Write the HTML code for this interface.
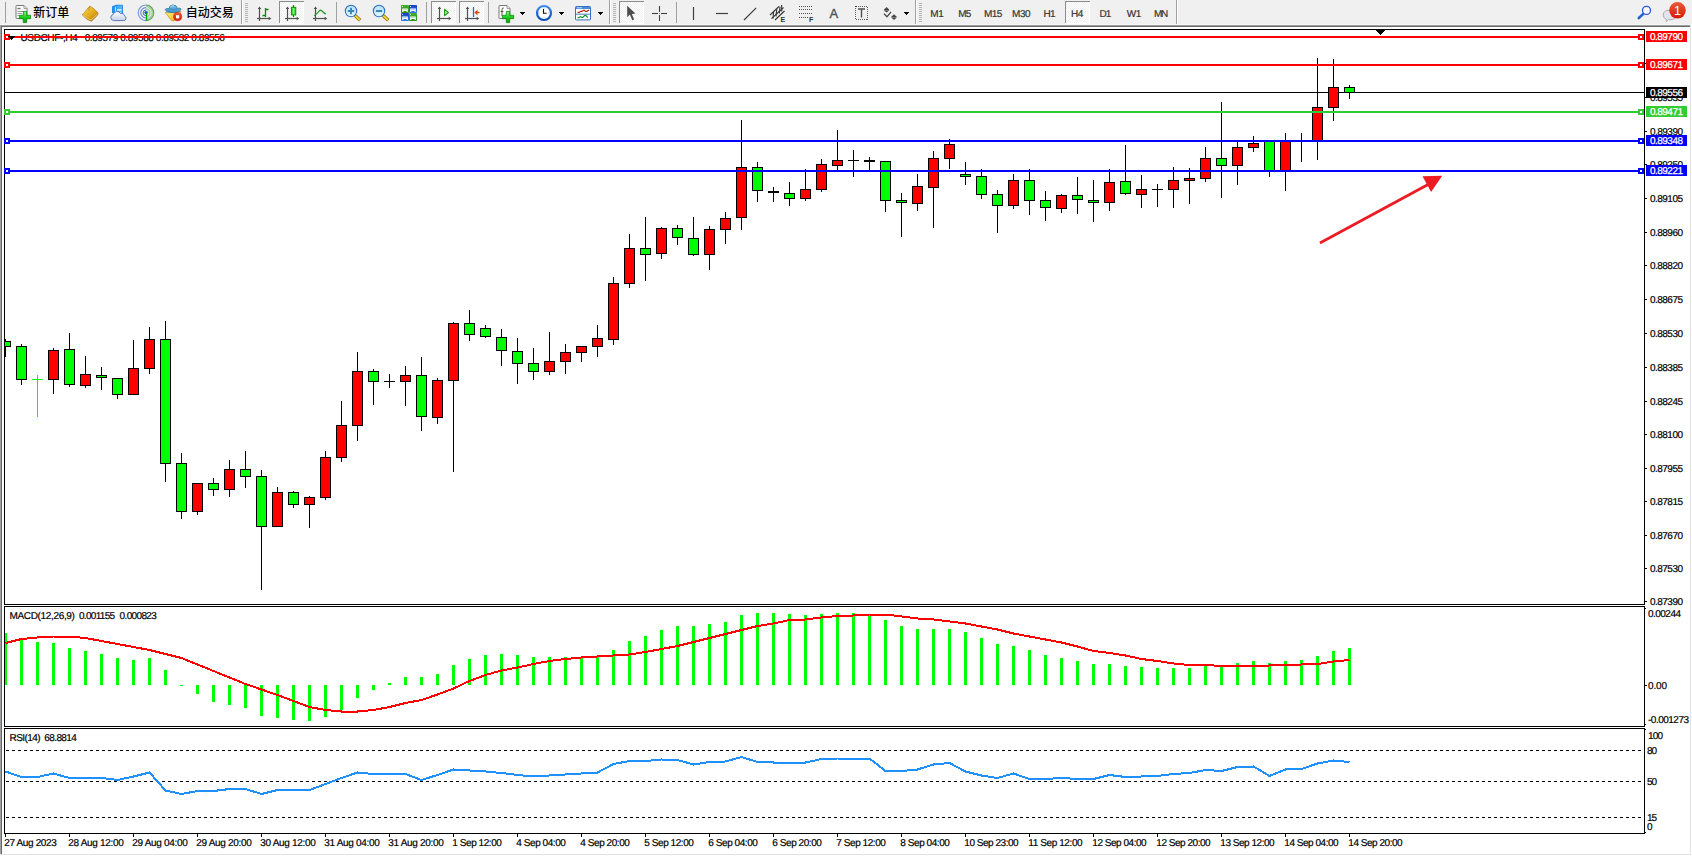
<!DOCTYPE html>
<html lang="zh"><head><meta charset="utf-8"><title>USDCHF-,H4</title>
<style>
html,body{margin:0;padding:0;background:#fff;}
body{width:1692px;height:856px;overflow:hidden;position:relative;font-family:"Liberation Sans", "Noto Sans CJK SC", sans-serif;}
svg{position:absolute;left:0;top:0;display:block}
text{font-family:"Liberation Sans", "Noto Sans CJK SC", sans-serif;}
.t,.w,.tb{text-rendering:geometricPrecision}
.t{font-size:10px;fill:#000;stroke:#000;stroke-width:0.2px}
.w{font-size:10px;fill:#fff;stroke:#fff;stroke-width:0.25px}
.tb{font-size:10px;fill:#333;stroke:#333;stroke-width:0.2px}
.cj{font-size:12px;fill:#000;font-weight:500}
</style></head><body>
<svg width="1692" height="856" viewBox="0 0 1692 856">

<g shape-rendering="crispEdges">
<rect x="0" y="0" width="1692" height="856" fill="#fff"/>
<rect x="0" y="0" width="1692" height="25" fill="#f0f0f0"/>
<rect x="0" y="24" width="1692" height="1" fill="#f6f6f6"/>
<rect x="0" y="25" width="1690" height="1" fill="#a0a0a0"/>
<rect x="0" y="26" width="1690" height="1" fill="#696969"/>
<rect x="0" y="25" width="1" height="829" fill="#a0a0a0"/>
<rect x="1" y="26" width="1" height="828" fill="#696969"/>
<rect x="1690" y="25" width="1" height="830" fill="#e3e3e3"/>
<rect x="1691" y="25" width="1" height="831" fill="#fff"/>
<rect x="0" y="854" width="1691" height="1" fill="#e3e3e3"/>
<rect x="0" y="855" width="1692" height="1" fill="#fff"/>
</g>
<g shape-rendering="crispEdges">
<rect x="4" y="29" width="1641" height="1" fill="#000"/>
<rect x="4" y="604" width="1641" height="1" fill="#000"/>
<rect x="4" y="29" width="1" height="576" fill="#000"/>
<rect x="1644" y="29" width="1" height="576" fill="#000"/>
<rect x="4" y="606" width="1641" height="1" fill="#000"/>
<rect x="4" y="726" width="1641" height="1" fill="#000"/>
<rect x="4" y="606" width="1" height="121" fill="#000"/>
<rect x="1644" y="606" width="1" height="121" fill="#000"/>
<rect x="4" y="728" width="1641" height="1" fill="#000"/>
<rect x="4" y="833" width="1641" height="1" fill="#000"/>
<rect x="4" y="728" width="1" height="106" fill="#000"/>
<rect x="1644" y="728" width="1" height="106" fill="#000"/>
<rect x="5" y="92" width="1640" height="1" fill="#000"/>
</g>
<text class="t" y="41"><tspan x="20.5" textLength="57.2" lengthAdjust="spacing">USDCHF-,H4</tspan><tspan x="84.7" textLength="140.2" lengthAdjust="spacing">0.89579 0.89588 0.89532 0.89556</tspan></text>
<clipPath id="cm"><rect x="5" y="30" width="1639" height="574"/></clipPath>
<g shape-rendering="crispEdges" clip-path="url(#cm)">
<rect x="5" y="339" width="1" height="18" fill="#000"/>
<rect x="0" y="341" width="11" height="6" fill="#000"/>
<rect x="1" y="342" width="9" height="4" fill="#00ff00"/>
<rect x="21" y="344" width="1" height="41" fill="#000"/>
<rect x="16" y="346" width="11" height="34" fill="#000"/>
<rect x="17" y="347" width="9" height="32" fill="#00ff00"/>
<rect x="53" y="348" width="1" height="46" fill="#000"/>
<rect x="48" y="350" width="11" height="30" fill="#000"/>
<rect x="49" y="351" width="9" height="28" fill="#ff0000"/>
<rect x="69" y="333" width="1" height="54" fill="#000"/>
<rect x="64" y="349" width="11" height="36" fill="#000"/>
<rect x="65" y="350" width="9" height="34" fill="#00ff00"/>
<rect x="85" y="356" width="1" height="32" fill="#000"/>
<rect x="80" y="374" width="11" height="12" fill="#000"/>
<rect x="81" y="375" width="9" height="10" fill="#ff0000"/>
<rect x="101" y="367" width="1" height="23" fill="#000"/>
<rect x="96" y="375" width="11" height="3" fill="#000"/>
<rect x="97" y="376" width="9" height="1" fill="#00ff00"/>
<rect x="117" y="378" width="1" height="21" fill="#000"/>
<rect x="112" y="378" width="11" height="17" fill="#000"/>
<rect x="113" y="379" width="9" height="15" fill="#00ff00"/>
<rect x="133" y="340" width="1" height="55" fill="#000"/>
<rect x="128" y="368" width="11" height="27" fill="#000"/>
<rect x="129" y="369" width="9" height="25" fill="#ff0000"/>
<rect x="149" y="327" width="1" height="47" fill="#000"/>
<rect x="144" y="339" width="11" height="30" fill="#000"/>
<rect x="145" y="340" width="9" height="28" fill="#ff0000"/>
<rect x="165" y="321" width="1" height="161" fill="#000"/>
<rect x="160" y="339" width="11" height="125" fill="#000"/>
<rect x="161" y="340" width="9" height="123" fill="#00ff00"/>
<rect x="181" y="453" width="1" height="66" fill="#000"/>
<rect x="176" y="463" width="11" height="49" fill="#000"/>
<rect x="177" y="464" width="9" height="47" fill="#00ff00"/>
<rect x="197" y="483" width="1" height="32" fill="#000"/>
<rect x="192" y="483" width="11" height="29" fill="#000"/>
<rect x="193" y="484" width="9" height="27" fill="#ff0000"/>
<rect x="213" y="478" width="1" height="18" fill="#000"/>
<rect x="208" y="483" width="11" height="7" fill="#000"/>
<rect x="209" y="484" width="9" height="5" fill="#00ff00"/>
<rect x="229" y="460" width="1" height="37" fill="#000"/>
<rect x="224" y="469" width="11" height="21" fill="#000"/>
<rect x="225" y="470" width="9" height="19" fill="#ff0000"/>
<rect x="245" y="451" width="1" height="37" fill="#000"/>
<rect x="240" y="469" width="11" height="8" fill="#000"/>
<rect x="241" y="470" width="9" height="6" fill="#00ff00"/>
<rect x="261" y="470" width="1" height="120" fill="#000"/>
<rect x="256" y="476" width="11" height="51" fill="#000"/>
<rect x="257" y="477" width="9" height="49" fill="#00ff00"/>
<rect x="277" y="487" width="1" height="40" fill="#000"/>
<rect x="272" y="492" width="11" height="35" fill="#000"/>
<rect x="273" y="493" width="9" height="33" fill="#ff0000"/>
<rect x="293" y="491" width="1" height="17" fill="#000"/>
<rect x="288" y="492" width="11" height="13" fill="#000"/>
<rect x="289" y="493" width="9" height="11" fill="#00ff00"/>
<rect x="309" y="496" width="1" height="32" fill="#000"/>
<rect x="304" y="497" width="11" height="8" fill="#000"/>
<rect x="305" y="498" width="9" height="6" fill="#ff0000"/>
<rect x="325" y="451" width="1" height="49" fill="#000"/>
<rect x="320" y="457" width="11" height="41" fill="#000"/>
<rect x="321" y="458" width="9" height="39" fill="#ff0000"/>
<rect x="341" y="401" width="1" height="61" fill="#000"/>
<rect x="336" y="425" width="11" height="33" fill="#000"/>
<rect x="337" y="426" width="9" height="31" fill="#ff0000"/>
<rect x="357" y="352" width="1" height="89" fill="#000"/>
<rect x="352" y="371" width="11" height="55" fill="#000"/>
<rect x="353" y="372" width="9" height="53" fill="#ff0000"/>
<rect x="373" y="369" width="1" height="36" fill="#000"/>
<rect x="368" y="371" width="11" height="11" fill="#000"/>
<rect x="369" y="372" width="9" height="9" fill="#00ff00"/>
<rect x="405" y="366" width="1" height="40" fill="#000"/>
<rect x="400" y="375" width="11" height="7" fill="#000"/>
<rect x="401" y="376" width="9" height="5" fill="#ff0000"/>
<rect x="421" y="357" width="1" height="74" fill="#000"/>
<rect x="416" y="375" width="11" height="42" fill="#000"/>
<rect x="417" y="376" width="9" height="40" fill="#00ff00"/>
<rect x="437" y="378" width="1" height="46" fill="#000"/>
<rect x="432" y="380" width="11" height="38" fill="#000"/>
<rect x="433" y="381" width="9" height="36" fill="#ff0000"/>
<rect x="453" y="322" width="1" height="150" fill="#000"/>
<rect x="448" y="323" width="11" height="58" fill="#000"/>
<rect x="449" y="324" width="9" height="56" fill="#ff0000"/>
<rect x="469" y="310" width="1" height="31" fill="#000"/>
<rect x="464" y="323" width="11" height="12" fill="#000"/>
<rect x="465" y="324" width="9" height="10" fill="#00ff00"/>
<rect x="485" y="325" width="1" height="13" fill="#000"/>
<rect x="480" y="328" width="11" height="9" fill="#000"/>
<rect x="481" y="329" width="9" height="7" fill="#00ff00"/>
<rect x="501" y="329" width="1" height="37" fill="#000"/>
<rect x="496" y="337" width="11" height="14" fill="#000"/>
<rect x="497" y="338" width="9" height="12" fill="#00ff00"/>
<rect x="517" y="338" width="1" height="46" fill="#000"/>
<rect x="512" y="351" width="11" height="13" fill="#000"/>
<rect x="513" y="352" width="9" height="11" fill="#00ff00"/>
<rect x="533" y="348" width="1" height="32" fill="#000"/>
<rect x="528" y="363" width="11" height="9" fill="#000"/>
<rect x="529" y="364" width="9" height="7" fill="#00ff00"/>
<rect x="549" y="332" width="1" height="43" fill="#000"/>
<rect x="544" y="361" width="11" height="11" fill="#000"/>
<rect x="545" y="362" width="9" height="9" fill="#ff0000"/>
<rect x="565" y="344" width="1" height="30" fill="#000"/>
<rect x="560" y="352" width="11" height="10" fill="#000"/>
<rect x="561" y="353" width="9" height="8" fill="#ff0000"/>
<rect x="581" y="346" width="1" height="16" fill="#000"/>
<rect x="576" y="346" width="11" height="7" fill="#000"/>
<rect x="577" y="347" width="9" height="5" fill="#ff0000"/>
<rect x="597" y="325" width="1" height="32" fill="#000"/>
<rect x="592" y="338" width="11" height="9" fill="#000"/>
<rect x="593" y="339" width="9" height="7" fill="#ff0000"/>
<rect x="613" y="277" width="1" height="68" fill="#000"/>
<rect x="608" y="283" width="11" height="57" fill="#000"/>
<rect x="609" y="284" width="9" height="55" fill="#ff0000"/>
<rect x="629" y="234" width="1" height="54" fill="#000"/>
<rect x="624" y="248" width="11" height="36" fill="#000"/>
<rect x="625" y="249" width="9" height="34" fill="#ff0000"/>
<rect x="645" y="217" width="1" height="64" fill="#000"/>
<rect x="640" y="248" width="11" height="7" fill="#000"/>
<rect x="641" y="249" width="9" height="5" fill="#00ff00"/>
<rect x="661" y="227" width="1" height="32" fill="#000"/>
<rect x="656" y="228" width="11" height="26" fill="#000"/>
<rect x="657" y="229" width="9" height="24" fill="#ff0000"/>
<rect x="677" y="225" width="1" height="20" fill="#000"/>
<rect x="672" y="228" width="11" height="10" fill="#000"/>
<rect x="673" y="229" width="9" height="8" fill="#00ff00"/>
<rect x="693" y="217" width="1" height="39" fill="#000"/>
<rect x="688" y="238" width="11" height="17" fill="#000"/>
<rect x="689" y="239" width="9" height="15" fill="#00ff00"/>
<rect x="709" y="226" width="1" height="44" fill="#000"/>
<rect x="704" y="229" width="11" height="26" fill="#000"/>
<rect x="705" y="230" width="9" height="24" fill="#ff0000"/>
<rect x="725" y="212" width="1" height="32" fill="#000"/>
<rect x="720" y="218" width="11" height="12" fill="#000"/>
<rect x="721" y="219" width="9" height="10" fill="#ff0000"/>
<rect x="741" y="120" width="1" height="110" fill="#000"/>
<rect x="736" y="167" width="11" height="51" fill="#000"/>
<rect x="737" y="168" width="9" height="49" fill="#ff0000"/>
<rect x="757" y="162" width="1" height="40" fill="#000"/>
<rect x="752" y="167" width="11" height="24" fill="#000"/>
<rect x="753" y="168" width="9" height="22" fill="#00ff00"/>
<rect x="789" y="182" width="1" height="24" fill="#000"/>
<rect x="784" y="193" width="11" height="6" fill="#000"/>
<rect x="785" y="194" width="9" height="4" fill="#00ff00"/>
<rect x="805" y="169" width="1" height="32" fill="#000"/>
<rect x="800" y="189" width="11" height="10" fill="#000"/>
<rect x="801" y="190" width="9" height="8" fill="#ff0000"/>
<rect x="821" y="159" width="1" height="33" fill="#000"/>
<rect x="816" y="164" width="11" height="26" fill="#000"/>
<rect x="817" y="165" width="9" height="24" fill="#ff0000"/>
<rect x="837" y="130" width="1" height="40" fill="#000"/>
<rect x="832" y="160" width="11" height="6" fill="#000"/>
<rect x="833" y="161" width="9" height="4" fill="#ff0000"/>
<rect x="885" y="161" width="1" height="51" fill="#000"/>
<rect x="880" y="161" width="11" height="40" fill="#000"/>
<rect x="881" y="162" width="9" height="38" fill="#00ff00"/>
<rect x="901" y="193" width="1" height="44" fill="#000"/>
<rect x="896" y="200" width="11" height="3" fill="#000"/>
<rect x="897" y="201" width="9" height="1" fill="#00ff00"/>
<rect x="917" y="174" width="1" height="37" fill="#000"/>
<rect x="912" y="186" width="11" height="18" fill="#000"/>
<rect x="913" y="187" width="9" height="16" fill="#ff0000"/>
<rect x="933" y="151" width="1" height="77" fill="#000"/>
<rect x="928" y="158" width="11" height="30" fill="#000"/>
<rect x="929" y="159" width="9" height="28" fill="#ff0000"/>
<rect x="949" y="139" width="1" height="30" fill="#000"/>
<rect x="944" y="144" width="11" height="15" fill="#000"/>
<rect x="945" y="145" width="9" height="13" fill="#ff0000"/>
<rect x="965" y="162" width="1" height="23" fill="#000"/>
<rect x="960" y="174" width="11" height="3" fill="#000"/>
<rect x="961" y="175" width="9" height="1" fill="#00ff00"/>
<rect x="981" y="169" width="1" height="30" fill="#000"/>
<rect x="976" y="176" width="11" height="19" fill="#000"/>
<rect x="977" y="177" width="9" height="17" fill="#00ff00"/>
<rect x="997" y="190" width="1" height="43" fill="#000"/>
<rect x="992" y="194" width="11" height="12" fill="#000"/>
<rect x="993" y="195" width="9" height="10" fill="#00ff00"/>
<rect x="1013" y="174" width="1" height="35" fill="#000"/>
<rect x="1008" y="180" width="11" height="26" fill="#000"/>
<rect x="1009" y="181" width="9" height="24" fill="#ff0000"/>
<rect x="1029" y="169" width="1" height="46" fill="#000"/>
<rect x="1024" y="180" width="11" height="21" fill="#000"/>
<rect x="1025" y="181" width="9" height="19" fill="#00ff00"/>
<rect x="1045" y="191" width="1" height="30" fill="#000"/>
<rect x="1040" y="200" width="11" height="8" fill="#000"/>
<rect x="1041" y="201" width="9" height="6" fill="#00ff00"/>
<rect x="1061" y="194" width="1" height="19" fill="#000"/>
<rect x="1056" y="195" width="11" height="14" fill="#000"/>
<rect x="1057" y="196" width="9" height="12" fill="#ff0000"/>
<rect x="1077" y="177" width="1" height="37" fill="#000"/>
<rect x="1072" y="195" width="11" height="5" fill="#000"/>
<rect x="1073" y="196" width="9" height="3" fill="#00ff00"/>
<rect x="1093" y="180" width="1" height="42" fill="#000"/>
<rect x="1088" y="200" width="11" height="3" fill="#000"/>
<rect x="1089" y="201" width="9" height="1" fill="#00ff00"/>
<rect x="1109" y="169" width="1" height="42" fill="#000"/>
<rect x="1104" y="182" width="11" height="21" fill="#000"/>
<rect x="1105" y="183" width="9" height="19" fill="#ff0000"/>
<rect x="1125" y="145" width="1" height="50" fill="#000"/>
<rect x="1120" y="181" width="11" height="13" fill="#000"/>
<rect x="1121" y="182" width="9" height="11" fill="#00ff00"/>
<rect x="1141" y="175" width="1" height="33" fill="#000"/>
<rect x="1136" y="189" width="11" height="6" fill="#000"/>
<rect x="1137" y="190" width="9" height="4" fill="#ff0000"/>
<rect x="1173" y="167" width="1" height="41" fill="#000"/>
<rect x="1168" y="180" width="11" height="10" fill="#000"/>
<rect x="1169" y="181" width="9" height="8" fill="#ff0000"/>
<rect x="1189" y="168" width="1" height="36" fill="#000"/>
<rect x="1184" y="178" width="11" height="3" fill="#000"/>
<rect x="1185" y="179" width="9" height="1" fill="#ff0000"/>
<rect x="1205" y="147" width="1" height="35" fill="#000"/>
<rect x="1200" y="158" width="11" height="21" fill="#000"/>
<rect x="1201" y="159" width="9" height="19" fill="#ff0000"/>
<rect x="1221" y="102" width="1" height="96" fill="#000"/>
<rect x="1216" y="158" width="11" height="8" fill="#000"/>
<rect x="1217" y="159" width="9" height="6" fill="#00ff00"/>
<rect x="1237" y="141" width="1" height="44" fill="#000"/>
<rect x="1232" y="147" width="11" height="19" fill="#000"/>
<rect x="1233" y="148" width="9" height="17" fill="#ff0000"/>
<rect x="1253" y="136" width="1" height="16" fill="#000"/>
<rect x="1248" y="143" width="11" height="5" fill="#000"/>
<rect x="1249" y="144" width="9" height="3" fill="#ff0000"/>
<rect x="1269" y="140" width="1" height="37" fill="#000"/>
<rect x="1264" y="141" width="11" height="31" fill="#000"/>
<rect x="1265" y="142" width="9" height="29" fill="#00ff00"/>
<rect x="1285" y="133" width="1" height="58" fill="#000"/>
<rect x="1280" y="141" width="11" height="31" fill="#000"/>
<rect x="1281" y="142" width="9" height="29" fill="#ff0000"/>
<rect x="1317" y="58" width="1" height="102" fill="#000"/>
<rect x="1312" y="107" width="11" height="34" fill="#000"/>
<rect x="1313" y="108" width="9" height="32" fill="#ff0000"/>
<rect x="1333" y="59" width="1" height="62" fill="#000"/>
<rect x="1328" y="87" width="11" height="21" fill="#000"/>
<rect x="1329" y="88" width="9" height="19" fill="#ff0000"/>
<rect x="1349" y="85" width="1" height="14" fill="#000"/>
<rect x="1344" y="87" width="11" height="6" fill="#000"/>
<rect x="1345" y="88" width="9" height="4" fill="#00ff00"/>
<rect x="37" y="375" width="1" height="42" fill="#00ff00"/>
<rect x="32" y="379" width="11" height="1" fill="#00ff00"/>
<rect x="389" y="374" width="1" height="14" fill="#000"/>
<rect x="384" y="381" width="11" height="1" fill="#000"/>
<rect x="773" y="187" width="1" height="15" fill="#000"/>
<rect x="768" y="191" width="11" height="2" fill="#000"/>
<rect x="853" y="150" width="1" height="27" fill="#000"/>
<rect x="848" y="160" width="11" height="1" fill="#000"/>
<rect x="869" y="157" width="1" height="13" fill="#000"/>
<rect x="864" y="160" width="11" height="2" fill="#000"/>
<rect x="1157" y="184" width="1" height="23" fill="#000"/>
<rect x="1152" y="189" width="11" height="1" fill="#000"/>
<rect x="1301" y="133" width="1" height="29" fill="#000"/>
<rect x="1296" y="141" width="11" height="1" fill="#000"/>
</g>
<g shape-rendering="crispEdges">
<rect x="5" y="36" width="1639" height="2" fill="#ff0000"/>
<rect x="5" y="64" width="1639" height="2" fill="#ff0000"/>
<rect x="5" y="111" width="1639" height="2" fill="#32cd32"/>
<rect x="5" y="140" width="1639" height="2" fill="#0000ff"/>
<rect x="5" y="170" width="1639" height="2" fill="#0000ff"/>
<rect x="4" y="34" width="6" height="6" fill="#ff0000"/>
<rect x="6" y="36" width="2" height="2" fill="#fff"/>
<rect x="1638" y="34" width="6" height="6" fill="#ff0000"/>
<rect x="1640" y="36" width="2" height="2" fill="#fff"/>
<rect x="4" y="62" width="6" height="6" fill="#ff0000"/>
<rect x="6" y="64" width="2" height="2" fill="#fff"/>
<rect x="1638" y="62" width="6" height="6" fill="#ff0000"/>
<rect x="1640" y="64" width="2" height="2" fill="#fff"/>
<rect x="4" y="109" width="6" height="6" fill="#32cd32"/>
<rect x="6" y="111" width="2" height="2" fill="#fff"/>
<rect x="1638" y="109" width="6" height="6" fill="#32cd32"/>
<rect x="1640" y="111" width="2" height="2" fill="#fff"/>
<rect x="4" y="138" width="6" height="6" fill="#0000ff"/>
<rect x="6" y="140" width="2" height="2" fill="#fff"/>
<rect x="1638" y="138" width="6" height="6" fill="#0000ff"/>
<rect x="1640" y="140" width="2" height="2" fill="#fff"/>
<rect x="4" y="168" width="6" height="6" fill="#0000ff"/>
<rect x="6" y="170" width="2" height="2" fill="#fff"/>
<rect x="1638" y="168" width="6" height="6" fill="#0000ff"/>
<rect x="1640" y="170" width="2" height="2" fill="#fff"/>
<rect x="8" y="36" width="7" height="1" fill="#000"/>
<rect x="9" y="37" width="5" height="1" fill="#000"/>
<rect x="10" y="38" width="3" height="1" fill="#000"/>
<rect x="11" y="39" width="1" height="1" fill="#000"/>
<rect x="1375" y="29" width="11" height="1" fill="#000"/>
<rect x="1376" y="30" width="9" height="1" fill="#000"/>
<rect x="1377" y="31" width="7" height="1" fill="#000"/>
<rect x="1378" y="32" width="5" height="1" fill="#000"/>
<rect x="1379" y="33" width="3" height="1" fill="#000"/>
<rect x="1380" y="34" width="1" height="1" fill="#000"/>
</g>
<g shape-rendering="crispEdges">
<rect x="1645" y="97" width="2" height="1" fill="#000"/>
<rect x="1645" y="131" width="2" height="1" fill="#000"/>
<rect x="1645" y="164" width="2" height="1" fill="#000"/>
<rect x="1645" y="198" width="2" height="1" fill="#000"/>
<rect x="1645" y="232" width="2" height="1" fill="#000"/>
<rect x="1645" y="265" width="2" height="1" fill="#000"/>
<rect x="1645" y="299" width="2" height="1" fill="#000"/>
<rect x="1645" y="333" width="2" height="1" fill="#000"/>
<rect x="1645" y="367" width="2" height="1" fill="#000"/>
<rect x="1645" y="401" width="2" height="1" fill="#000"/>
<rect x="1645" y="434" width="2" height="1" fill="#000"/>
<rect x="1645" y="468" width="2" height="1" fill="#000"/>
<rect x="1645" y="501" width="2" height="1" fill="#000"/>
<rect x="1645" y="535" width="2" height="1" fill="#000"/>
<rect x="1645" y="568" width="2" height="1" fill="#000"/>
<rect x="1645" y="601" width="2" height="1" fill="#000"/>
<rect x="1645" y="63" width="1" height="1" fill="#000"/>
<rect x="1645" y="608" width="1" height="1" fill="#000"/>
<rect x="1645" y="685" width="2" height="1" fill="#000"/>
<rect x="1645" y="724" width="1" height="1" fill="#000"/>
<rect x="1645" y="729" width="1" height="1" fill="#000"/>
<rect x="1645" y="832" width="1" height="1" fill="#000"/>
</g>
<text class="t" x="1650" y="101" textLength="33" lengthAdjust="spacing">0.89535</text>
<text class="t" x="1650" y="135" textLength="33" lengthAdjust="spacing">0.89390</text>
<text class="t" x="1650" y="168" textLength="33" lengthAdjust="spacing">0.89250</text>
<text class="t" x="1650" y="202" textLength="33" lengthAdjust="spacing">0.89105</text>
<text class="t" x="1650" y="236" textLength="33" lengthAdjust="spacing">0.88960</text>
<text class="t" x="1650" y="269" textLength="33" lengthAdjust="spacing">0.88820</text>
<text class="t" x="1650" y="303" textLength="33" lengthAdjust="spacing">0.88675</text>
<text class="t" x="1650" y="337" textLength="33" lengthAdjust="spacing">0.88530</text>
<text class="t" x="1650" y="371" textLength="33" lengthAdjust="spacing">0.88385</text>
<text class="t" x="1650" y="405" textLength="33" lengthAdjust="spacing">0.88245</text>
<text class="t" x="1650" y="438" textLength="33" lengthAdjust="spacing">0.88100</text>
<text class="t" x="1650" y="472" textLength="33" lengthAdjust="spacing">0.87955</text>
<text class="t" x="1650" y="505" textLength="33" lengthAdjust="spacing">0.87815</text>
<text class="t" x="1650" y="539" textLength="33" lengthAdjust="spacing">0.87670</text>
<text class="t" x="1650" y="572" textLength="33" lengthAdjust="spacing">0.87530</text>
<text class="t" x="1650" y="605" textLength="33" lengthAdjust="spacing">0.87390</text>
<g shape-rendering="crispEdges">
<rect x="1646" y="31" width="41" height="11" fill="#ff0000"/>
<rect x="1646" y="59" width="41" height="11" fill="#ff0000"/>
<rect x="1646" y="87" width="41" height="11" fill="#000000"/>
<rect x="1646" y="106" width="41" height="11" fill="#32cd32"/>
<rect x="1646" y="135" width="41" height="11" fill="#0000ff"/>
<rect x="1646" y="165" width="41" height="11" fill="#0000ff"/>
</g>
<text class="w" x="1650" y="40" textLength="33" lengthAdjust="spacing">0.89790</text>
<text class="w" x="1650" y="68" textLength="33" lengthAdjust="spacing">0.89671</text>
<text class="w" x="1650" y="96" textLength="33" lengthAdjust="spacing">0.89556</text>
<text class="w" x="1650" y="115" textLength="33" lengthAdjust="spacing">0.89471</text>
<text class="w" x="1650" y="144" textLength="33" lengthAdjust="spacing">0.89348</text>
<text class="w" x="1650" y="174" textLength="33" lengthAdjust="spacing">0.89221</text>
<text class="t" x="1648" y="617" textLength="33" lengthAdjust="spacing">0.00244</text>
<text class="t" x="1648" y="689" textLength="19" lengthAdjust="spacing">0.00</text>
<text class="t" x="1648" y="723.4" textLength="41" lengthAdjust="spacing">-0.001273</text>
<text class="t" x="1648" y="738.9" textLength="15" lengthAdjust="spacing">100</text>
<text class="t" x="1647" y="754" textLength="10" lengthAdjust="spacing">80</text>
<text class="t" x="1647" y="785" textLength="10" lengthAdjust="spacing">50</text>
<text class="t" x="1647" y="821" textLength="10" lengthAdjust="spacing">15</text>
<text class="t" x="1647" y="830.3">0</text>
<g shape-rendering="crispEdges">
<rect x="5" y="633" width="2" height="52" fill="#00ff00"/>
<rect x="20" y="640" width="3" height="45" fill="#00ff00"/>
<rect x="36" y="642" width="3" height="43" fill="#00ff00"/>
<rect x="52" y="643" width="3" height="42" fill="#00ff00"/>
<rect x="68" y="648" width="3" height="37" fill="#00ff00"/>
<rect x="84" y="651" width="3" height="34" fill="#00ff00"/>
<rect x="100" y="654" width="3" height="31" fill="#00ff00"/>
<rect x="116" y="658" width="3" height="27" fill="#00ff00"/>
<rect x="132" y="660" width="3" height="25" fill="#00ff00"/>
<rect x="148" y="658" width="3" height="27" fill="#00ff00"/>
<rect x="164" y="670" width="3" height="15" fill="#00ff00"/>
<rect x="180" y="685" width="3" height="1" fill="#00ff00"/>
<rect x="196" y="685" width="3" height="9" fill="#00ff00"/>
<rect x="212" y="685" width="3" height="17" fill="#00ff00"/>
<rect x="228" y="685" width="3" height="20" fill="#00ff00"/>
<rect x="244" y="685" width="3" height="23" fill="#00ff00"/>
<rect x="260" y="685" width="3" height="31" fill="#00ff00"/>
<rect x="276" y="685" width="3" height="33" fill="#00ff00"/>
<rect x="292" y="685" width="3" height="35" fill="#00ff00"/>
<rect x="308" y="685" width="3" height="36" fill="#00ff00"/>
<rect x="324" y="685" width="3" height="32" fill="#00ff00"/>
<rect x="340" y="685" width="3" height="25" fill="#00ff00"/>
<rect x="356" y="685" width="3" height="13" fill="#00ff00"/>
<rect x="372" y="685" width="3" height="5" fill="#00ff00"/>
<rect x="388" y="683" width="3" height="2" fill="#00ff00"/>
<rect x="404" y="677" width="3" height="8" fill="#00ff00"/>
<rect x="420" y="677" width="3" height="8" fill="#00ff00"/>
<rect x="436" y="674" width="3" height="11" fill="#00ff00"/>
<rect x="452" y="665" width="3" height="20" fill="#00ff00"/>
<rect x="468" y="659" width="3" height="26" fill="#00ff00"/>
<rect x="484" y="655" width="3" height="30" fill="#00ff00"/>
<rect x="500" y="654" width="3" height="31" fill="#00ff00"/>
<rect x="516" y="655" width="3" height="30" fill="#00ff00"/>
<rect x="532" y="657" width="3" height="28" fill="#00ff00"/>
<rect x="548" y="657" width="3" height="28" fill="#00ff00"/>
<rect x="564" y="657" width="3" height="28" fill="#00ff00"/>
<rect x="580" y="657" width="3" height="28" fill="#00ff00"/>
<rect x="596" y="656" width="3" height="29" fill="#00ff00"/>
<rect x="612" y="650" width="3" height="35" fill="#00ff00"/>
<rect x="628" y="641" width="3" height="44" fill="#00ff00"/>
<rect x="644" y="636" width="3" height="49" fill="#00ff00"/>
<rect x="660" y="630" width="3" height="55" fill="#00ff00"/>
<rect x="676" y="626" width="3" height="59" fill="#00ff00"/>
<rect x="692" y="626" width="3" height="59" fill="#00ff00"/>
<rect x="708" y="624" width="3" height="61" fill="#00ff00"/>
<rect x="724" y="622" width="3" height="63" fill="#00ff00"/>
<rect x="740" y="615" width="3" height="70" fill="#00ff00"/>
<rect x="756" y="613" width="3" height="72" fill="#00ff00"/>
<rect x="772" y="613" width="3" height="72" fill="#00ff00"/>
<rect x="788" y="614" width="3" height="71" fill="#00ff00"/>
<rect x="804" y="615" width="3" height="70" fill="#00ff00"/>
<rect x="820" y="614" width="3" height="71" fill="#00ff00"/>
<rect x="836" y="613" width="3" height="72" fill="#00ff00"/>
<rect x="852" y="613" width="3" height="72" fill="#00ff00"/>
<rect x="868" y="615" width="3" height="70" fill="#00ff00"/>
<rect x="884" y="620" width="3" height="65" fill="#00ff00"/>
<rect x="900" y="626" width="3" height="59" fill="#00ff00"/>
<rect x="916" y="629" width="3" height="56" fill="#00ff00"/>
<rect x="932" y="629" width="3" height="56" fill="#00ff00"/>
<rect x="948" y="629" width="3" height="56" fill="#00ff00"/>
<rect x="964" y="632" width="3" height="53" fill="#00ff00"/>
<rect x="980" y="638" width="3" height="47" fill="#00ff00"/>
<rect x="996" y="644" width="3" height="41" fill="#00ff00"/>
<rect x="1012" y="646" width="3" height="39" fill="#00ff00"/>
<rect x="1028" y="650" width="3" height="35" fill="#00ff00"/>
<rect x="1044" y="655" width="3" height="30" fill="#00ff00"/>
<rect x="1060" y="658" width="3" height="27" fill="#00ff00"/>
<rect x="1076" y="661" width="3" height="24" fill="#00ff00"/>
<rect x="1092" y="664" width="3" height="21" fill="#00ff00"/>
<rect x="1108" y="664" width="3" height="21" fill="#00ff00"/>
<rect x="1124" y="666" width="3" height="19" fill="#00ff00"/>
<rect x="1140" y="667" width="3" height="18" fill="#00ff00"/>
<rect x="1156" y="668" width="3" height="17" fill="#00ff00"/>
<rect x="1172" y="668" width="3" height="17" fill="#00ff00"/>
<rect x="1188" y="668" width="3" height="17" fill="#00ff00"/>
<rect x="1204" y="666" width="3" height="19" fill="#00ff00"/>
<rect x="1220" y="667" width="3" height="18" fill="#00ff00"/>
<rect x="1236" y="663" width="3" height="22" fill="#00ff00"/>
<rect x="1252" y="661" width="3" height="24" fill="#00ff00"/>
<rect x="1268" y="663" width="3" height="22" fill="#00ff00"/>
<rect x="1284" y="661" width="3" height="24" fill="#00ff00"/>
<rect x="1300" y="660" width="3" height="25" fill="#00ff00"/>
<rect x="1316" y="656" width="3" height="29" fill="#00ff00"/>
<rect x="1332" y="651" width="3" height="34" fill="#00ff00"/>
<rect x="1348" y="648" width="3" height="37" fill="#00ff00"/>
<polyline points="5.5,643 21.5,639 37.5,637.5 53.5,636.5 69.5,636.5 85.5,638 101.5,641 117.5,644 133.5,647 149.5,650 165.5,654 181.5,658 197.5,664.5 213.5,671 229.5,677.5 245.5,684 261.5,689.5 277.5,695 293.5,701 309.5,707 325.5,710 341.5,711.5 357.5,711.5 373.5,710 389.5,707 405.5,703 421.5,700 437.5,694.5 453.5,688.5 469.5,681 485.5,675 501.5,670.5 517.5,667.5 533.5,664 549.5,661 565.5,659 581.5,657.5 597.5,656.5 613.5,655.5 629.5,654.5 645.5,652 661.5,649 677.5,646 693.5,642 709.5,638 725.5,634 741.5,630 757.5,626 773.5,623.5 789.5,620 805.5,619.5 821.5,617.5 837.5,616 853.5,615.5 869.5,614.5 885.5,614.5 901.5,616.5 917.5,618.5 933.5,619.5 949.5,621.5 965.5,623.5 981.5,626.5 997.5,629.5 1013.5,633.5 1029.5,636.5 1045.5,639.5 1061.5,642.5 1077.5,646.5 1093.5,651 1109.5,653 1125.5,655.5 1141.5,659 1157.5,661 1173.5,663.5 1189.5,665 1205.5,665 1221.5,666 1237.5,666 1253.5,666 1269.5,665.5 1285.5,665 1301.5,664.5 1317.5,664 1333.5,661.5 1349.5,660" fill="none" stroke="#ff0000" stroke-width="2"/>
<line x1="6" y1="750.5" x2="1644" y2="750.5" stroke="#000" stroke-width="1" stroke-dasharray="3,3"/>
<line x1="6" y1="781.5" x2="1644" y2="781.5" stroke="#000" stroke-width="1" stroke-dasharray="3,3"/>
<line x1="6" y1="817.5" x2="1644" y2="817.5" stroke="#000" stroke-width="1" stroke-dasharray="3,3"/>
<polyline points="5.5,771.5 21.5,777 37.5,777 53.5,773.5 69.5,778 85.5,778 101.5,778 117.5,780 133.5,776.5 149.5,772.5 165.5,790.5 181.5,794 197.5,791 213.5,791 229.5,789 245.5,789 261.5,794 277.5,790 293.5,790 309.5,790 325.5,784 341.5,778 357.5,772.5 373.5,774 389.5,774 405.5,774 421.5,780 437.5,775 453.5,769.5 469.5,770.5 485.5,771.5 501.5,773 517.5,775 533.5,776.5 549.5,775.5 565.5,774.5 581.5,773.5 597.5,772.5 613.5,764 629.5,761 645.5,761 661.5,759.5 677.5,760 693.5,764.5 709.5,762 725.5,761.5 741.5,757 757.5,762 773.5,762.5 789.5,762.5 805.5,762.5 821.5,759 837.5,758.5 853.5,758.5 869.5,758.5 885.5,771 901.5,771 917.5,769.5 933.5,764.5 949.5,763 965.5,771.5 981.5,775.5 997.5,778 1013.5,773.5 1029.5,779 1045.5,779 1061.5,778 1077.5,779 1093.5,779 1109.5,775 1125.5,777 1141.5,776.5 1157.5,776 1173.5,774 1189.5,773 1205.5,770 1221.5,771 1237.5,767 1253.5,766.5 1269.5,776 1285.5,769.5 1301.5,769 1317.5,763.5 1333.5,760.5 1349.5,762" fill="none" stroke="#1e90ff" stroke-width="2"/>
<rect x="5" y="834" width="1" height="3" fill="#000"/>
<rect x="69" y="834" width="1" height="3" fill="#000"/>
<rect x="133" y="834" width="1" height="3" fill="#000"/>
<rect x="197" y="834" width="1" height="3" fill="#000"/>
<rect x="261" y="834" width="1" height="3" fill="#000"/>
<rect x="325" y="834" width="1" height="3" fill="#000"/>
<rect x="389" y="834" width="1" height="3" fill="#000"/>
<rect x="453" y="834" width="1" height="3" fill="#000"/>
<rect x="517" y="834" width="1" height="3" fill="#000"/>
<rect x="581" y="834" width="1" height="3" fill="#000"/>
<rect x="645" y="834" width="1" height="3" fill="#000"/>
<rect x="709" y="834" width="1" height="3" fill="#000"/>
<rect x="773" y="834" width="1" height="3" fill="#000"/>
<rect x="837" y="834" width="1" height="3" fill="#000"/>
<rect x="901" y="834" width="1" height="3" fill="#000"/>
<rect x="965" y="834" width="1" height="3" fill="#000"/>
<rect x="1029" y="834" width="1" height="3" fill="#000"/>
<rect x="1093" y="834" width="1" height="3" fill="#000"/>
<rect x="1157" y="834" width="1" height="3" fill="#000"/>
<rect x="1221" y="834" width="1" height="3" fill="#000"/>
<rect x="1285" y="834" width="1" height="3" fill="#000"/>
<rect x="1349" y="834" width="1" height="3" fill="#000"/>
</g>
<text class="t" y="619"><tspan x="9.5" textLength="65.4" lengthAdjust="spacing">MACD(12,26,9)</tspan><tspan x="78.9" textLength="36.2" lengthAdjust="spacing">0.001155</tspan><tspan x="119.6" textLength="37.2" lengthAdjust="spacing">0.000823</tspan></text>
<text class="t" y="741"><tspan x="9.5" textLength="31.2" lengthAdjust="spacing">RSI(14)</tspan><tspan x="44.2" textLength="32.7" lengthAdjust="spacing">68.8814</tspan></text>
<text class="t" x="4.3" y="846" textLength="52.5" lengthAdjust="spacing">27 Aug 2023</text>
<text class="t" x="68.3" y="846" textLength="55.5" lengthAdjust="spacing">28 Aug 12:00</text>
<text class="t" x="132.3" y="846" textLength="55.5" lengthAdjust="spacing">29 Aug 04:00</text>
<text class="t" x="196.3" y="846" textLength="55.5" lengthAdjust="spacing">29 Aug 20:00</text>
<text class="t" x="260.3" y="846" textLength="55.5" lengthAdjust="spacing">30 Aug 12:00</text>
<text class="t" x="324.3" y="846" textLength="55.5" lengthAdjust="spacing">31 Aug 04:00</text>
<text class="t" x="388.3" y="846" textLength="55.5" lengthAdjust="spacing">31 Aug 20:00</text>
<text class="t" x="452.3" y="846" textLength="49.6" lengthAdjust="spacing">1 Sep 12:00</text>
<text class="t" x="516.3" y="846" textLength="49.6" lengthAdjust="spacing">4 Sep 04:00</text>
<text class="t" x="580.3" y="846" textLength="49.6" lengthAdjust="spacing">4 Sep 20:00</text>
<text class="t" x="644.3" y="846" textLength="49.6" lengthAdjust="spacing">5 Sep 12:00</text>
<text class="t" x="708.3" y="846" textLength="49.6" lengthAdjust="spacing">6 Sep 04:00</text>
<text class="t" x="772.3" y="846" textLength="49.6" lengthAdjust="spacing">6 Sep 20:00</text>
<text class="t" x="836.3" y="846" textLength="49.6" lengthAdjust="spacing">7 Sep 12:00</text>
<text class="t" x="900.3" y="846" textLength="49.6" lengthAdjust="spacing">8 Sep 04:00</text>
<text class="t" x="964.3" y="846" textLength="54.3" lengthAdjust="spacing">10 Sep 23:00</text>
<text class="t" x="1028.3" y="846" textLength="54.3" lengthAdjust="spacing">11 Sep 12:00</text>
<text class="t" x="1092.3" y="846" textLength="54.3" lengthAdjust="spacing">12 Sep 04:00</text>
<text class="t" x="1156.3" y="846" textLength="54.3" lengthAdjust="spacing">12 Sep 20:00</text>
<text class="t" x="1220.3" y="846" textLength="54.3" lengthAdjust="spacing">13 Sep 12:00</text>
<text class="t" x="1284.3" y="846" textLength="54.3" lengthAdjust="spacing">14 Sep 04:00</text>
<text class="t" x="1348.3" y="846" textLength="54.3" lengthAdjust="spacing">14 Sep 20:00</text>
<g fill="#ed1c24" stroke="none"><path d="M1319.3,241.8 L1320.6,244.2 L1429.2,185.4 L1427.9,183.0 Z"/><path d="M1422.5,176.3 L1442.2,175.8 L1431.1,191.9 Z"/></g><defs>
<linearGradient id="gpl" x1="0" y1="0" x2="0" y2="1"><stop offset="0" stop-color="#7cf87c"/><stop offset="0.5" stop-color="#1fd01f"/><stop offset="1" stop-color="#0a9a0a"/></linearGradient>
<linearGradient id="gbook" x1="0" y1="0" x2="1" y2="1"><stop offset="0" stop-color="#f8dc60"/><stop offset="0.6" stop-color="#e0a818"/><stop offset="1" stop-color="#b87808"/></linearGradient>
<linearGradient id="gsrv" x1="0" y1="0" x2="1" y2="0"><stop offset="0" stop-color="#1890f8"/><stop offset="1" stop-color="#58c0ff"/></linearGradient>
<linearGradient id="gcloud" x1="0" y1="0" x2="0" y2="1"><stop offset="0" stop-color="#ffffff"/><stop offset="1" stop-color="#c4d0e8"/></linearGradient>
<linearGradient id="ghat" x1="0" y1="0" x2="0" y2="1"><stop offset="0" stop-color="#7cc4f0"/><stop offset="1" stop-color="#3c8cc8"/></linearGradient>
<linearGradient id="gfun" x1="0" y1="0" x2="1" y2="1"><stop offset="0" stop-color="#fff080"/><stop offset="1" stop-color="#e8b010"/></linearGradient>
<linearGradient id="gred" x1="0" y1="0" x2="0" y2="1"><stop offset="0" stop-color="#ea5a3a"/><stop offset="1" stop-color="#d61a08"/></linearGradient>
<linearGradient id="gcan" x1="0" y1="0" x2="1" y2="0"><stop offset="0" stop-color="#18c818"/><stop offset="0.5" stop-color="#70ff70"/><stop offset="1" stop-color="#18c818"/></linearGradient>
<linearGradient id="glens" x1="0" y1="0" x2="0" y2="1"><stop offset="0" stop-color="#b8e0f8"/><stop offset="1" stop-color="#e4f6ff"/></linearGradient>
<linearGradient id="gclk" x1="0" y1="0" x2="0" y2="1"><stop offset="0" stop-color="#3c8cf0"/><stop offset="1" stop-color="#0848b8"/></linearGradient>
<linearGradient id="ggr" x1="0" y1="0" x2="0" y2="1"><stop offset="0" stop-color="#44b030"/><stop offset="1" stop-color="#2a9018"/></linearGradient>
<linearGradient id="gbl" x1="0" y1="0" x2="0" y2="1"><stop offset="0" stop-color="#1840c0"/><stop offset="1" stop-color="#3878f0"/></linearGradient>
<pattern id="chk" width="2" height="2" patternUnits="userSpaceOnUse"><rect width="2" height="2" fill="#fff"/><rect width="1" height="1" fill="#f0f0f0"/><rect x="1" y="1" width="1" height="1" fill="#f0f0f0"/></pattern>
</defs>
<g shape-rendering="crispEdges">
<rect x="5" y="2" width="1" height="21" fill="#a0a0a0"/>
</g>
<path d="M16.5,5.5 h7.5 l3,3 v9.5 q0,0.5 -0.5,0.5 h-10 q-0.5,0 -0.5,-0.5 v-12 q0,-0.5 0.5,-0.5z" fill="#fff" stroke="#787878" stroke-width="1"/><path d="M24,5.5 v3 h3" fill="#e8e8e8" stroke="#8a8a8a" stroke-width="0.8"/>
<g stroke="#9a9a9a" stroke-width="1"><line x1="17.5" y1="8.5" x2="20.5" y2="8.5" stroke="#707070" stroke-width="1.4"/><line x1="17.5" y1="11.5" x2="24" y2="11.5"/><line x1="17.5" y1="13.5" x2="22" y2="13.5"/><line x1="17.5" y1="15.5" x2="20" y2="15.5"/></g>
<path d="M23.3,11.4 h3.4 v3.9 h3.9 v3.4 h-3.9 v3.9 h-3.4 v-3.9 h-3.9 v-3.4 h3.9z" fill="url(#gpl)" stroke="#0a8a0a" stroke-width="0.8" stroke-linejoin="round"/>
<text class="cj" x="33.2" y="16.6">新订单</text>
<path d="M82.4,15 L89.6,6.4 Q92.6,7 98,13 L97.6,15 L91.4,21.2 Q86.4,19.6 82.4,15z" fill="#c08410" stroke="#a06408" stroke-width="0.8" stroke-linejoin="round"/><path d="M82.6,14.6 L89.6,6.5 Q92.6,7.2 97.8,12.8 L91,19.4 Q86.4,18 82.6,14.6z" fill="url(#gbook)"/><path d="M83.2,15.4 Q87,18.6 91.2,20 L97.6,13.8" fill="none" stroke="#f8e490" stroke-width="0.8"/><path d="M89.8,6.8 Q88.2,8.8 89,10.6" fill="none" stroke="#b88010" stroke-width="0.7"/>
<path d="M112.5,6.5 L116,5.2 h6.5 v9 h-7 l-3,-1.5z" fill="url(#gsrv)" stroke="#1478e0" stroke-width="0.8"/><path d="M115.5,7 v7" stroke="#d8f0ff" stroke-width="0.8"/><rect x="117" y="9.2" width="4.5" height="1.4" fill="#e8f6ff"/><rect x="117" y="12" width="4.5" height="1" fill="#a8dcff"/>
<path d="M113.6,20.6 A3.1,3.1 0 0 1 113.2,14.5 A4,4 0 0 1 120.6,13.6 A3,3 0 0 1 124.6,16 A2.4,2.4 0 0 1 123.6,20.6z" fill="url(#gcloud)" stroke="#6078b8" stroke-width="1"/>
<path d="M146,20.6 A7.8,7.8 0 0 0 146,5z" fill="#8cc48c" opacity="0.75"/><g fill="none"><path d="M146,20.6 A7.8,7.8 0 0 0 146,5" stroke="#5ca85c" stroke-width="1.1"/><path d="M146,5 A7.8,7.8 0 0 0 146,20.6" stroke="#5c80d8" stroke-width="1.2" opacity="0.8"/><path d="M146,7.6 A5.2,5.2 0 0 0 146,18" stroke="#4870d8" stroke-width="1.1" opacity="0.85"/><path d="M146,18 A5.2,5.2 0 0 0 146,7.6" stroke="#e8f4e8" stroke-width="1" opacity="0.9"/><path d="M146,10 A2.8,2.8 0 0 0 146,15.6" stroke="#3c68d8" stroke-width="1"/><path d="M146,15.6 A2.8,2.8 0 0 0 146,10" stroke="#e8f4e8" stroke-width="0.9" opacity="0.9"/></g><circle cx="146" cy="12.6" r="1.6" fill="#2050d0"/><line x1="146.5" y1="13" x2="146.5" y2="20.6" stroke="#10a010" stroke-width="1.3"/>
<path d="M165.3,12.5 L181,11.5 L174,21 L171.5,20.6z" fill="url(#gfun)" stroke="#c89010" stroke-width="0.7"/>
<path d="M165.2,9.4 Q165.6,8.2 169,8.6 Q169.4,5 173,5 Q176.8,5 177.4,8.4 Q180.6,7.6 181,9 Q180.4,12.4 173,12.6 Q166,12.6 165.2,9.4z" fill="url(#ghat)" stroke="#2c7ca8" stroke-width="0.8"/><path d="M169.4,8.8 Q173,10.4 177.2,8.6" fill="none" stroke="#2c7ca8" stroke-width="0.7"/><path d="M170.6,6.6 Q172,5.6 174,5.8" fill="none" stroke="#c4e8ff" stroke-width="0.8"/>
<circle cx="177.6" cy="16.7" r="4.1" fill="url(#gred)" stroke="#c01808" stroke-width="0.5"/><rect x="176" y="15.2" width="3.2" height="3.2" fill="#fff"/>
<text class="cj" x="185.7" y="16.6">自动交易</text>
<g shape-rendering="crispEdges">
<rect x="241" y="0" width="1" height="24" fill="#a0a0a0"/>
<rect x="242" y="0" width="1" height="24" fill="#fff"/>
</g>
<g shape-rendering="crispEdges">
<rect x="245" y="3" width="3" height="1" fill="#b4b4b4"/>
<rect x="245" y="5" width="3" height="1" fill="#b4b4b4"/>
<rect x="245" y="7" width="3" height="1" fill="#b4b4b4"/>
<rect x="245" y="9" width="3" height="1" fill="#b4b4b4"/>
<rect x="245" y="11" width="3" height="1" fill="#b4b4b4"/>
<rect x="245" y="13" width="3" height="1" fill="#b4b4b4"/>
<rect x="245" y="15" width="3" height="1" fill="#b4b4b4"/>
<rect x="245" y="17" width="3" height="1" fill="#b4b4b4"/>
<rect x="245" y="19" width="3" height="1" fill="#b4b4b4"/>
<rect x="245" y="21" width="3" height="1" fill="#b4b4b4"/>
</g>
<g stroke="#505050" stroke-width="1.2" fill="#505050"><line x1="259.5" y1="8" x2="259.5" y2="21"/><line x1="257" y1="18.5" x2="270" y2="18.5"/><path d="M259.5,6.5 l-1.8,2.6 h3.6z M271.3,18.5 l-2.6,-1.8 v3.6z" stroke="none"/></g>
<path d="M265.5,8 v9 M265.5,9.5 h3 M265.5,15.5 h-3" stroke="#088a08" stroke-width="1.3" fill="none"/>
<g shape-rendering="crispEdges">
<rect x="279" y="1" width="25" height="23" fill="url(#chk)"/>
<rect x="279" y="1" width="25" height="1" fill="#8c8c8c"/>
<rect x="279" y="1" width="1" height="22" fill="#8c8c8c"/>
<rect x="303" y="2" width="1" height="22" fill="#fff"/>
<rect x="280" y="23" width="24" height="1" fill="#fff"/>
</g>
<g stroke="#505050" stroke-width="1.2" fill="#505050"><line x1="287.5" y1="8" x2="287.5" y2="21"/><line x1="285" y1="18.5" x2="298" y2="18.5"/><path d="M287.5,6.5 l-1.8,2.6 h3.6z M299.3,18.5 l-2.6,-1.8 v3.6z" stroke="none"/></g>
<line x1="293.5" y1="5" x2="293.5" y2="17" stroke="#088a08" stroke-width="1.3"/><rect x="291.4" y="7.3" width="4.4" height="7.6" fill="url(#gcan)" stroke="#088a08" stroke-width="0.9"/>
<g stroke="#505050" stroke-width="1.2" fill="#505050"><line x1="315.5" y1="8" x2="315.5" y2="21"/><line x1="313" y1="18.5" x2="326" y2="18.5"/><path d="M315.5,6.5 l-1.8,2.6 h3.6z M327.3,18.5 l-2.6,-1.8 v3.6z" stroke="none"/></g>
<path d="M314.2,15.8 Q317.5,13 319.3,10.8 Q320.6,9.6 322,11 Q324,13.4 326,14" stroke="#2c9a2c" stroke-width="1.2" fill="none"/>
<g shape-rendering="crispEdges">
<rect x="336" y="2" width="1" height="21" fill="#a0a0a0"/>
</g>
<line x1="355" y1="15.5" x2="360.2" y2="20.3" stroke="#9a7008" stroke-width="3.4" stroke-linecap="butt"/><line x1="355.2" y1="15.7" x2="359.9" y2="20" stroke="#f0d838" stroke-width="1.8"/>
<circle cx="351" cy="11" r="5.7" fill="url(#glens)" stroke="#2874c4" stroke-width="1.1"/>
<rect x="347.8" y="10" width="6.4" height="2" fill="#3888b8"/>
<rect x="350" y="7.8" width="2" height="6.4" fill="#3888b8"/>
<line x1="383" y1="15.5" x2="388.2" y2="20.3" stroke="#9a7008" stroke-width="3.4" stroke-linecap="butt"/><line x1="383.2" y1="15.7" x2="387.9" y2="20" stroke="#f0d838" stroke-width="1.8"/>
<circle cx="379" cy="11" r="5.7" fill="url(#glens)" stroke="#2874c4" stroke-width="1.1"/>
<rect x="375.8" y="10" width="6.4" height="2" fill="#3888b8"/>
<rect x="401" y="5" width="8" height="8" rx="0.8" fill="url(#ggr)"/><rect x="402" y="5.9" width="1" height="1" fill="#fff" opacity="0.8"/><path d="M402.2,8.4 h5.6 v3.6 h-1.2 v-1 h-3.2 v1 h-1.2z" fill="#fff"/><rect x="403.2" y="9.3" width="3.6" height="0.9" fill="#a8dc98"/>
<rect x="409" y="5" width="8" height="8" rx="0.8" fill="url(#gbl)"/><rect x="410" y="5.9" width="1" height="1" fill="#fff" opacity="0.8"/><path d="M410.2,8.4 h5.6 v3.6 h-1.2 v-1 h-3.2 v1 h-1.2z" fill="#fff"/><rect x="411.2" y="9.3" width="3.6" height="0.9" fill="#a0b8f8"/>
<rect x="401" y="13" width="8" height="8" rx="0.8" fill="url(#gbl)"/><rect x="402" y="13.9" width="1" height="1" fill="#fff" opacity="0.8"/><path d="M402.2,16.4 h5.6 v3.6 h-1.2 v-1 h-3.2 v1 h-1.2z" fill="#fff"/><rect x="403.2" y="17.3" width="3.6" height="0.9" fill="#a0b8f8"/>
<rect x="409" y="13" width="8" height="8" rx="0.8" fill="url(#ggr)"/><rect x="410" y="13.9" width="1" height="1" fill="#fff" opacity="0.8"/><path d="M410.2,16.4 h5.6 v3.6 h-1.2 v-1 h-3.2 v1 h-1.2z" fill="#fff"/><rect x="411.2" y="17.3" width="3.6" height="0.9" fill="#a8dc98"/>
<g shape-rendering="crispEdges">
<rect x="426" y="2" width="1" height="21" fill="#a0a0a0"/>
</g>
<g shape-rendering="crispEdges">
<rect x="431" y="1" width="25" height="23" fill="url(#chk)"/>
<rect x="431" y="1" width="25" height="1" fill="#8c8c8c"/>
<rect x="431" y="1" width="1" height="22" fill="#8c8c8c"/>
<rect x="455" y="2" width="1" height="22" fill="#fff"/>
<rect x="432" y="23" width="24" height="1" fill="#fff"/>
</g>
<g stroke="#505050" stroke-width="1.2" fill="#505050"><line x1="439.5" y1="8" x2="439.5" y2="21"/><line x1="437" y1="18.5" x2="450" y2="18.5"/><path d="M439.5,6.5 l-1.8,2.6 h3.6z M451.3,18.5 l-2.6,-1.8 v3.6z" stroke="none"/></g>
<path d="M444.6,9.3 v6.4 l3.8,-3.2z" fill="#b8f0b8" stroke="#10a010" stroke-width="1.1" stroke-linejoin="round"/>
<g shape-rendering="crispEdges">
<rect x="459" y="1" width="25" height="23" fill="url(#chk)"/>
<rect x="459" y="1" width="25" height="1" fill="#8c8c8c"/>
<rect x="459" y="1" width="1" height="22" fill="#8c8c8c"/>
<rect x="483" y="2" width="1" height="22" fill="#fff"/>
<rect x="460" y="23" width="24" height="1" fill="#fff"/>
</g>
<g stroke="#505050" stroke-width="1.2" fill="#505050"><line x1="467.5" y1="8" x2="467.5" y2="21"/><line x1="465" y1="18.5" x2="478" y2="18.5"/><path d="M467.5,6.5 l-1.8,2.6 h3.6z M479.3,18.5 l-2.6,-1.8 v3.6z" stroke="none"/></g>
<line x1="473.5" y1="7" x2="473.5" y2="17" stroke="#1878b8" stroke-width="1.3"/><path d="M474.6,12.5 l2.8,-2.2 l-0.5,1.7 h2.3 v1 h-2.3 l0.5,1.7z" fill="#e84800" stroke="#d03800" stroke-width="0.5"/>
<g shape-rendering="crispEdges">
<rect x="488" y="2" width="1" height="21" fill="#a0a0a0"/>
</g>
<path d="M499.5,5.5 h7.5 l3,3 v9.5 q0,0.5 -0.5,0.5 h-10 q-0.5,0 -0.5,-0.5 v-12 q0,-0.5 0.5,-0.5z" fill="#fff" stroke="#787878" stroke-width="1"/><path d="M507,5.5 v3 h3" fill="#e8e8e8" stroke="#8a8a8a" stroke-width="0.8"/><path d="M503.8,8 q-1.8,-0.4 -1.8,1.6 v6.4 M500.6,11.5 h2.8" stroke="#4c4428" stroke-width="0.9" fill="none"/>
<path d="M506.3,11.4 h3.4 v3.9 h3.9 v3.4 h-3.9 v3.9 h-3.4 v-3.9 h-3.9 v-3.4 h3.9z" fill="url(#gpl)" stroke="#0a8a0a" stroke-width="0.8" stroke-linejoin="round"/>
<g shape-rendering="crispEdges">
<rect x="520" y="12" width="5" height="1" fill="#000"/>
<rect x="521" y="13" width="3" height="1" fill="#000"/>
<rect x="522" y="14" width="1" height="1" fill="#000"/>
</g>
<circle cx="544" cy="13" r="7" fill="#fff" stroke="url(#gclk)" stroke-width="2.2"/><g stroke="#606060" stroke-width="0.6"><line x1="544" y1="7.6" x2="544" y2="8.6"/><line x1="544" y1="17.4" x2="544" y2="18.4" stroke="#4090f0"/><line x1="538.6" y1="13" x2="539.6" y2="13"/><line x1="548.4" y1="13" x2="549.4" y2="13"/></g><path d="M543.5,9 v4.2 h3.2" stroke="#101010" stroke-width="1.1" fill="none"/>
<g shape-rendering="crispEdges">
<rect x="559" y="12" width="5" height="1" fill="#000"/>
<rect x="560" y="13" width="3" height="1" fill="#000"/>
<rect x="561" y="14" width="1" height="1" fill="#000"/>
</g>
<rect x="575.5" y="6.5" width="15" height="13.4" rx="0.8" fill="#fff" stroke="#3470c0" stroke-width="1"/><rect x="576" y="7" width="14" height="2" fill="#4c8ce0"/><rect x="577" y="7.4" width="5" height="0.8" fill="#d8ecff"/><line x1="576" y1="14.2" x2="590" y2="14.2" stroke="#3470c0" stroke-width="0.9"/><path d="M577.6,12.4 h1.6 l1.6,-1 h1.2 l1.4,-1 h1 l1.2,1 h1.4 l1.2,-1 h1" stroke="#a82808" stroke-width="1.1" fill="none"/><path d="M577.6,17.6 h1.2 l1.6,-1 l1.4,0.8 h1 l2,-2 l1.2,0.2 l1.8,2" stroke="#089028" stroke-width="1.1" fill="none"/>
<g shape-rendering="crispEdges">
<rect x="598" y="12" width="5" height="1" fill="#000"/>
<rect x="599" y="13" width="3" height="1" fill="#000"/>
<rect x="600" y="14" width="1" height="1" fill="#000"/>
</g>
<g shape-rendering="crispEdges">
<rect x="609" y="0" width="1" height="24" fill="#a0a0a0"/>
<rect x="610" y="0" width="1" height="24" fill="#fff"/>
</g>
<g shape-rendering="crispEdges">
<rect x="613" y="3" width="3" height="1" fill="#b4b4b4"/>
<rect x="613" y="5" width="3" height="1" fill="#b4b4b4"/>
<rect x="613" y="7" width="3" height="1" fill="#b4b4b4"/>
<rect x="613" y="9" width="3" height="1" fill="#b4b4b4"/>
<rect x="613" y="11" width="3" height="1" fill="#b4b4b4"/>
<rect x="613" y="13" width="3" height="1" fill="#b4b4b4"/>
<rect x="613" y="15" width="3" height="1" fill="#b4b4b4"/>
<rect x="613" y="17" width="3" height="1" fill="#b4b4b4"/>
<rect x="613" y="19" width="3" height="1" fill="#b4b4b4"/>
<rect x="613" y="21" width="3" height="1" fill="#b4b4b4"/>
</g>
<g shape-rendering="crispEdges">
<rect x="619" y="1" width="25" height="23" fill="url(#chk)"/>
<rect x="619" y="1" width="25" height="1" fill="#8c8c8c"/>
<rect x="619" y="1" width="1" height="22" fill="#8c8c8c"/>
<rect x="643" y="2" width="1" height="22" fill="#fff"/>
<rect x="620" y="23" width="24" height="1" fill="#fff"/>
</g>
<path d="M627.2,5.8 V17.2 L629.9,14.6 L632.3,20.2 L634.2,19.4 L631.8,13.9 L635.4,13.6z" fill="#4c4c4c"/>
<g stroke="#404040" stroke-width="1.1"><line x1="659.5" y1="6" x2="659.5" y2="12"/><line x1="659.5" y1="15" x2="659.5" y2="21"/><line x1="652" y1="13.5" x2="658" y2="13.5"/><line x1="661" y1="13.5" x2="667" y2="13.5"/></g><rect x="659" y="13" width="1" height="1" fill="#808080"/>
<g shape-rendering="crispEdges">
<rect x="676" y="2" width="1" height="21" fill="#a0a0a0"/>
</g>
<g stroke="#404040" stroke-width="1.2"><line x1="693.5" y1="7" x2="693.5" y2="20"/><line x1="716" y1="13.5" x2="728" y2="13.5"/><line x1="744" y1="20" x2="756.2" y2="7.8"/></g>
<g stroke="#383838" stroke-width="1.15" fill="none"><path d="M770,15 L779,6.5 M771.5,18.7 L783.5,7.5 M775,20 L784.5,11"/><path d="M773.6,12 l-0.6,6.5 M776.8,9.2 l-0.8,7.2 M780,6.6 l-0.6,6.8 M781.6,5 l0.2,6.4"/></g><text x="780.6" y="21.9" font-size="7" font-weight="bold" fill="#303030">E</text>
<g stroke="#505050" stroke-width="1" stroke-dasharray="1,1" shape-rendering="crispEdges"><line x1="799" y1="6.5" x2="813" y2="6.5"/><line x1="799" y1="9.5" x2="813" y2="9.5"/><line x1="799" y1="13.5" x2="813" y2="13.5"/><line x1="799" y1="17.5" x2="809" y2="17.5"/></g><text x="809" y="21.9" font-size="7" font-weight="bold" fill="#303030">F</text>
<text x="829.6" y="18.2" font-size="13" fill="#505050" stroke="#505050" stroke-width="0.35">A</text>
<rect x="855.5" y="6.5" width="12" height="13" fill="none" stroke="#606060" stroke-width="1" stroke-dasharray="1,1" shape-rendering="crispEdges"/><path d="M858,9 h7 M861.5,9 v8.5" stroke="#505050" stroke-width="1.4" fill="none"/><rect x="855" y="6" width="2" height="1" fill="#404040"/>
<g fill="#484848"><path d="M886.6,7 l3,3 h-6z M886.6,12.6 l-3,-2.4 h6z"/><path d="M894,14.2 l3,2.8 h-6z M894,20 l-3,-2.8 h6z"/><path d="M884.4,13.2 l2.6,2.6 l3.6,-4.4 l1,0.9 l-4.6,5.4 l-3.6,-3.6z"/></g>
<g shape-rendering="crispEdges">
<rect x="904" y="12" width="5" height="1" fill="#000"/>
<rect x="905" y="13" width="3" height="1" fill="#000"/>
<rect x="906" y="14" width="1" height="1" fill="#000"/>
</g>
<g shape-rendering="crispEdges">
<rect x="915" y="0" width="1" height="24" fill="#a0a0a0"/>
<rect x="916" y="0" width="1" height="24" fill="#fff"/>
</g>
<g shape-rendering="crispEdges">
<rect x="919" y="3" width="3" height="1" fill="#b4b4b4"/>
<rect x="919" y="5" width="3" height="1" fill="#b4b4b4"/>
<rect x="919" y="7" width="3" height="1" fill="#b4b4b4"/>
<rect x="919" y="9" width="3" height="1" fill="#b4b4b4"/>
<rect x="919" y="11" width="3" height="1" fill="#b4b4b4"/>
<rect x="919" y="13" width="3" height="1" fill="#b4b4b4"/>
<rect x="919" y="15" width="3" height="1" fill="#b4b4b4"/>
<rect x="919" y="17" width="3" height="1" fill="#b4b4b4"/>
<rect x="919" y="19" width="3" height="1" fill="#b4b4b4"/>
<rect x="919" y="21" width="3" height="1" fill="#b4b4b4"/>
</g>
<g shape-rendering="crispEdges">
<rect x="1065" y="1" width="25" height="23" fill="url(#chk)"/>
<rect x="1065" y="1" width="25" height="1" fill="#8c8c8c"/>
<rect x="1065" y="1" width="1" height="22" fill="#8c8c8c"/>
<rect x="1089" y="2" width="1" height="22" fill="#fff"/>
<rect x="1066" y="23" width="24" height="1" fill="#fff"/>
</g>
<text class="tb" x="930.3" y="17" textLength="13.4" lengthAdjust="spacing">M1</text>
<text class="tb" x="958.3" y="17" textLength="13" lengthAdjust="spacing">M5</text>
<text class="tb" x="984" y="17" textLength="18.4" lengthAdjust="spacing">M15</text>
<text class="tb" x="1012" y="17" textLength="18.6" lengthAdjust="spacing">M30</text>
<text class="tb" x="1043.4" y="17" textLength="12.2" lengthAdjust="spacing">H1</text>
<text class="tb" x="1071" y="17" textLength="12.2" lengthAdjust="spacing">H4</text>
<text class="tb" x="1099.4" y="17" textLength="11.8" lengthAdjust="spacing">D1</text>
<text class="tb" x="1126.8" y="17" textLength="14.4" lengthAdjust="spacing">W1</text>
<text class="tb" x="1154" y="17" textLength="14.2" lengthAdjust="spacing">MN</text>
<g shape-rendering="crispEdges">
<rect x="1176" y="0" width="1" height="24" fill="#a0a0a0"/>
<rect x="1177" y="0" width="1" height="24" fill="#fff"/>
</g>
<line x1="1643.6" y1="13.6" x2="1638.8" y2="18" stroke="#2460d0" stroke-width="2.6" stroke-linecap="round"/><circle cx="1646.5" cy="10.4" r="4" fill="#fafaff" stroke="#2458d4" stroke-width="1.3"/>
<path d="M1669.4,10.2 q-6,0 -6.2,4.8 q0,3.2 3,4.2 l0.2,2.4 l1.8,-2 q2.6,0.4 5.8,-0.6 q3,-1.6 2.8,-4.4 q-0.6,-4.4 -7.4,-4.4z" fill="#e4e4ec" stroke="#a8a8a8" stroke-width="0.9"/>
<circle cx="1677.5" cy="10.3" r="8.3" fill="url(#gred)"/><text x="1677.5" y="14.8" font-size="12.5" fill="#fff" text-anchor="middle">1</text>
</svg>
</body></html>
